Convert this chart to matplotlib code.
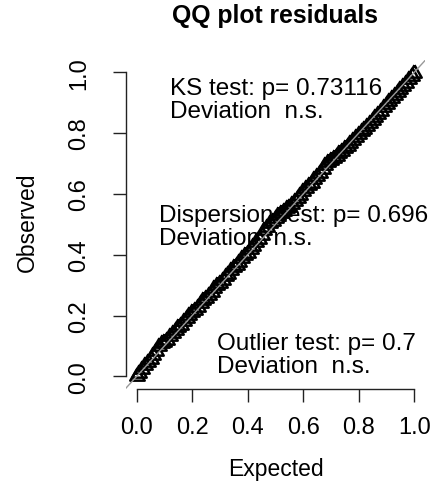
import matplotlib
matplotlib.use('Agg')
import matplotlib.pyplot as plt
import numpy as np

plt.rcParams['font.family'] = ['Liberation Sans', 'DejaVu Sans']

# Observed (sorted scaled residuals)
observed = [0.000, 0.012, 0.025, 0.036, 0.048, 0.058, 0.069, 0.082, 0.100, 0.108,
            0.112, 0.121, 0.132, 0.143, 0.152, 0.161, 0.170, 0.182, 0.193, 0.202,
            0.210, 0.219, 0.228, 0.240, 0.251, 0.259, 0.268, 0.279, 0.290, 0.300,
            0.308, 0.318, 0.329, 0.338, 0.349, 0.358, 0.366, 0.377, 0.388, 0.398,
            0.407, 0.418, 0.430, 0.441, 0.452, 0.466, 0.480, 0.492, 0.503, 0.512,
            0.521, 0.530, 0.538, 0.545, 0.552, 0.558, 0.566, 0.575, 0.586, 0.598,
            0.609, 0.619, 0.628, 0.637, 0.648, 0.659, 0.670, 0.682, 0.694, 0.704,
            0.711, 0.718, 0.726, 0.734, 0.742, 0.750, 0.758, 0.766, 0.776, 0.788,
            0.798, 0.806, 0.814, 0.822, 0.832, 0.842, 0.852, 0.862, 0.874, 0.886,
            0.895, 0.904, 0.914, 0.925, 0.936, 0.946, 0.955, 0.966, 0.977, 0.988,
            0.998]
# expected uniform quantiles follow from the ranks
expected = np.arange(len(observed)) / (len(observed) - 1)

tick_vals = [0.0, 0.2, 0.4, 0.6, 0.8, 1.0]
tick_labels = ['0.0', '0.2', '0.4', '0.6', '0.8', '1.0']

test_lines = [
    ('KS test: p= 0.73116', 'Deviation  n.s.'),
    ('Dispersion test: p= 0.696', 'Deviation  n.s.'),
    ('Outlier test: p= 0.7', 'Deviation  n.s.'),
]
# (left x, baseline line 1, baseline line 2) in data units
test_pos = [(0.12, 0.929, 0.852), (0.081, 0.512, 0.435), (0.288, 0.090, 0.013)]

# R style open triangle (pch = 2), centred on its centroid
tri = [(0, 1), (-0.866, -0.5), (0.866, -0.5), (0, 1)]

W, H = 433, 489
fig = plt.figure(figsize=(W / 100, H / 100), dpi=100)
fig.patch.set_facecolor('white')
ax = fig.add_axes([125.6 / W, 1 - 389.5 / H, 299.8 / W, 328.4 / H])

# annotation texts first, points on top like in R
for (l1, l2), (x, y1, y2) in zip(test_lines, test_pos):
    ax.text(x, y1, l1, fontsize=17.5, ha='left', va='baseline', color='black')
    ax.text(x, y2, l2, fontsize=17.5, ha='left', va='baseline', color='black')

ax.plot(expected, observed, linestyle='none', marker=tri, markersize=12,
        markerfacecolor='none', markeredgecolor='black', markeredgewidth=1.8)
ax.axline((0, 0), (1, 1), color='#999999', linewidth=1.0, zorder=5)

ax.set_xlim(-0.04, 1.04)
ax.set_ylim(-0.04, 1.04)
ax.set_xticks(tick_vals)
ax.set_xticklabels(tick_labels)
ax.set_yticks(tick_vals)
ax.set_yticklabels(tick_labels, rotation=90, va='center')

for side in ['top', 'right']:
    ax.spines[side].set_visible(False)
for side in ['left', 'bottom']:
    ax.spines[side].set_bounds(0, 1)
    ax.spines[side].set_linewidth(1.0)
    ax.spines[side].set_color('#222222')
ax.tick_params(direction='out', length=9.5, width=1.0, color='#222222', labelsize=17)
ax.tick_params(axis='x', pad=10)
ax.tick_params(axis='y', pad=16)

fig.text(275.5 / W, 1 - 16 / H, 'QQ plot residuals', fontsize=17.8,
         fontweight='bold', ha='center', va='center')
fig.text(275.5 / W, 1 - 470 / H, 'Expected', fontsize=16.5, ha='center', va='center')
fig.text(27 / W, 1 - 222 / H, 'Observed', fontsize=16.5, ha='center', va='center',
         rotation=90)

fig.savefig('out.png', dpi=100)
